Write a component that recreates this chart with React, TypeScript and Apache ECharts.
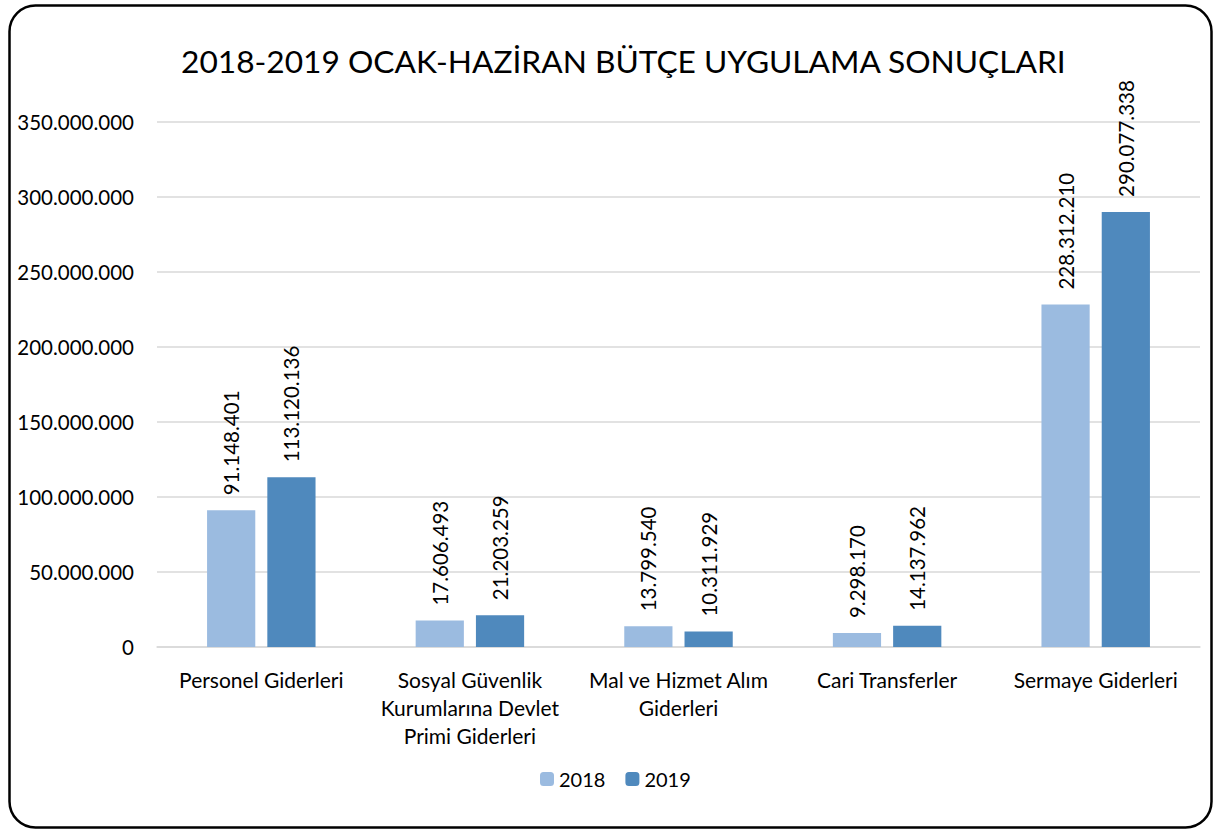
import React, { useEffect, useRef } from "react";
import * as echarts from "echarts";

const categories = [
  "Personel Giderleri",
  "Sosyal Güvenlik\nKurumlarına Devlet\nPrimi Giderleri",
  "Mal ve Hizmet Alım\nGiderleri",
  "Cari Transferler",
  "Sermaye Giderleri",
];
const values2018 = [91148401, 17606493, 13799540, 9298170, 228312210];
const values2019 = [113120136, 21203259, 10311929, 14137962, 290077338];
const seriesNames = ["2018", "2019"];
const title = "2018-2019 OCAK-HAZİRAN BÜTÇE UYGULAMA SONUÇLARI";

const FONT = "Lato, 'Open Sans', sans-serif";
const fmt = (v: number) => String(Math.round(v)).replace(/\B(?=(\d{3})+(?!\d))/g, ".");

export default function App() {
  const ref = useRef<HTMLDivElement>(null);
  useEffect(() => {
    if (!ref.current) return;
    const chart = echarts.init(ref.current, null, { renderer: "svg" });
    const label = {
      show: true,
      position: "top" as const,
      rotate: 90,
      align: "left" as const,
      verticalAlign: "middle" as const,
      distance: 15,
      fontFamily: FONT,
      fontSize: 20.5,
      color: "#000",
      formatter: (p: any) => fmt(p.value),
    };
    chart.setOption({
      animation: false,
      backgroundColor: "#fff",
      title: {
        text: title,
        left: 176,
        top: 40,
        textStyle: { fontFamily: FONT, fontSize: 31.7, fontWeight: "normal", color: "#000" },
      },
      legend: {
        bottom: 36,
        left: 535,
        itemWidth: 14,
        itemHeight: 14,
        itemGap: 20,
        textStyle: { fontFamily: FONT, fontSize: 20, color: "#000" },
        data: seriesNames,
      },
      grid: { left: 157, right: 19, top: 122, bottom: 183, containLabel: false },
      xAxis: {
        type: "category",
        data: categories,
        axisLine: { show: true, lineStyle: { color: "#d9d9d9", width: 1.5 } },
        axisTick: { show: false },
        axisLabel: {
          fontFamily: FONT,
          fontSize: 21,
          color: "#000",
          lineHeight: 28,
          margin: 18,
          interval: 0,
        },
      },
      yAxis: {
        type: "value",
        min: 0,
        max: 350000000,
        interval: 50000000,
        axisLine: { show: false },
        axisTick: { show: false },
        splitLine: { lineStyle: { color: "#d9d9d9", width: 1.5 } },
        axisLabel: {
          fontFamily: FONT,
          fontSize: 20.5,
          color: "#000",
          margin: 23,
          formatter: (v: number) => fmt(v),
        },
      },
      series: [
        {
          name: seriesNames[0],
          type: "bar",
          data: values2018,
          itemStyle: { color: "#9bbbe0" },
          barGap: "25%",
          barCategoryGap: "48%",
          label,
        },
        {
          name: seriesNames[1],
          type: "bar",
          data: values2019,
          itemStyle: { color: "#4f89bd" },
          barGap: "25%",
          barCategoryGap: "48%",
          label,
        },
      ],
      graphic: [
        {
          type: "rect",
          z: 100,
          shape: { x: 9.5, y: 5.5, width: 1202, height: 822, r: 26 },
          style: { fill: "none", stroke: "#000", lineWidth: 2.5 },
          silent: true,
        },
      ],
    });
    return () => chart.dispose();
  }, []);
  return (
    <div
      ref={ref}
      style={{ position: "absolute", left: 0, top: 0, width: 1219, height: 830 }}
    />
  );
}
